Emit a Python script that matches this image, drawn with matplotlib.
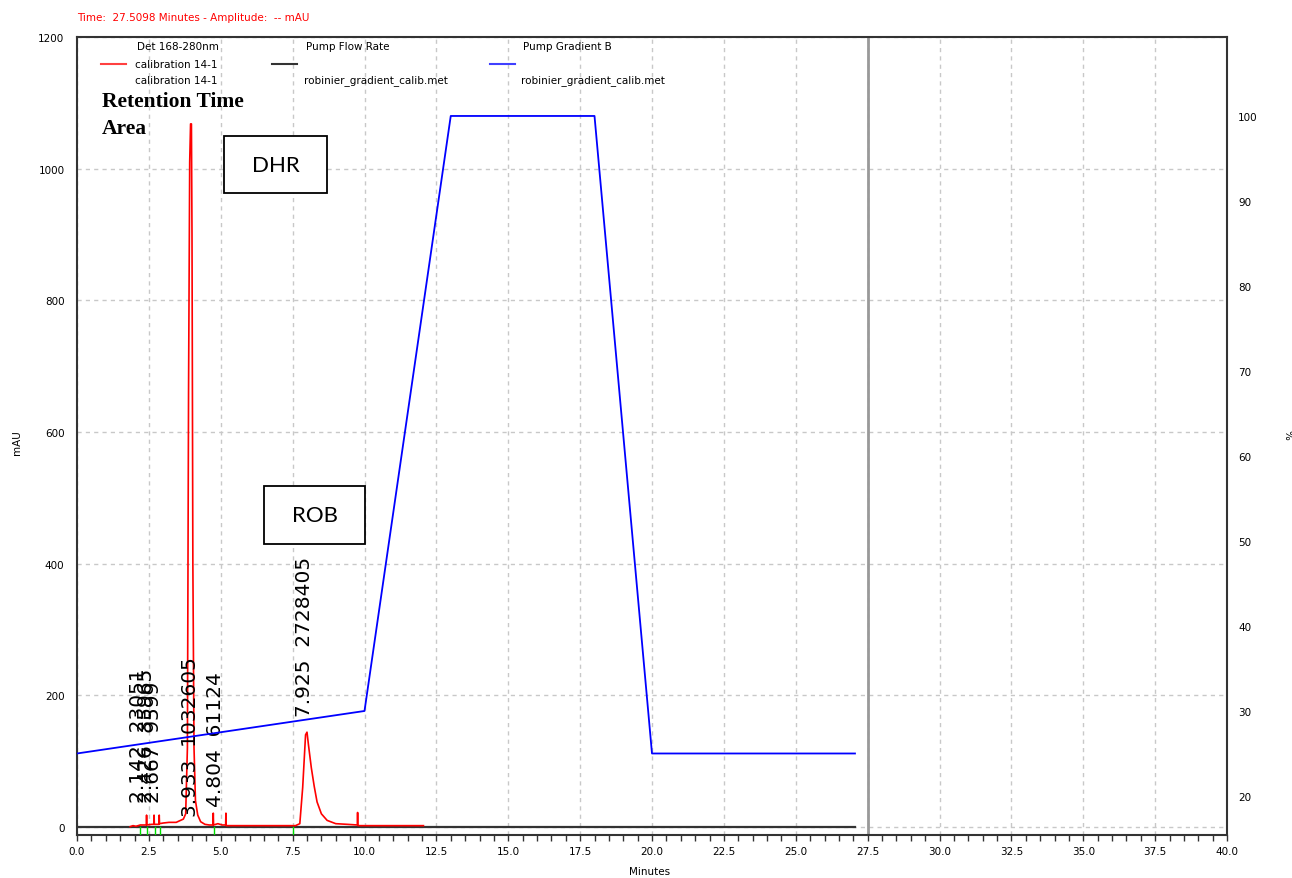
import numpy as np
import matplotlib.pyplot as plt
from matplotlib.lines import Line2D
from matplotlib.patches import Rectangle

# detector trace (Det 168-280nm), minutes vs mAU
trace_min = [1.85, 1.95, 2.05, 2.2, 2.41, 2.42, 2.43, 2.6, 2.67, 2.68, 2.69, 2.85, 2.86, 2.87,
             3.0, 3.2, 3.45, 3.6, 3.7, 3.78, 3.84, 3.88, 3.92, 3.95, 3.98, 4.0, 4.03, 4.07,
             4.12, 4.2, 4.3, 4.45, 4.6, 4.73, 4.74, 4.75, 4.9, 5.05, 5.17, 5.18, 5.19, 6.0,
             7.0, 7.6, 7.75, 7.85, 7.95, 8.0, 8.05, 8.15, 8.25, 8.35, 8.5, 8.7, 9.0, 9.4,
             9.75, 9.76, 9.77, 10.5, 12.05]
trace_mau = [0.5, 2, 1, 3, 3, 18, 3, 4, 4, 18, 4, 4, 18, 5,
             6, 7, 7, 10, 12, 20, 120, 660, 1010, 1068, 1068, 900, 400, 120,
             40, 18, 8, 4, 3, 3, 21, 3, 5, 3, 3, 21, 2, 2,
             2, 2, 5, 60, 140, 144, 125, 90, 62, 38, 20, 10, 5, 4,
             3, 22, 2, 2, 2]

# pump program
grad_min = [0.0, 10.0, 13.0, 18.0, 20.0, 27.06]
grad_pct = [25, 30, 100, 100, 25, 25]
flow_min = [0.0, 27.06]
flow_mau = [0, 0]

# integration results
peak_rt = [2.142, 2.426, 2.667, 3.933, 4.804, 7.925]
peak_area = [23051, 35965, 9599, 1032605, 61124, 2728405]
event_marks = [2.19, 2.43, 2.70, 2.87, 4.77, 7.51]

# where each annotation starts (mAU)
label_base = [38, 38, 38, 17, 32, 169]

fig = plt.figure(figsize=(12.92, 8.79), dpi=100)
W, H = 1292, 879
ax = fig.add_axes([77 / W, 1 - 836 / H, 1150 / W, 798 / H])

ax.set_xlim(0, 40)
ax.set_ylim(-12.2, 1200)
ax.set_xticks(np.arange(0, 40.1, 2.5))
ax.set_xticks(np.arange(0, 40.1, 0.5), minor=True)
ax.set_xticklabels([f'{v:.1f}' for v in np.arange(0, 40.1, 2.5)])
ax.set_yticks(np.arange(0, 1201, 200))
ax.tick_params(axis='x', which='both', direction='out', length=4, width=1,
               labelsize=7.5, pad=4, color='#333333')
ax.tick_params(axis='y', length=0, labelsize=7.5, pad=9)
ax.grid(True, color='#c8c8c8', linestyle=(0, (3, 3)), linewidth=1)
for s in ax.spines.values():
    s.set_color('#333333')
    s.set_linewidth(1.5)

ax.axvline(27.5, color='#999999', linewidth=2, zorder=2)

ax.plot(flow_min, flow_mau, color='#333333', linewidth=1.6, zorder=3)
ax.plot(trace_min, trace_mau, color='#ff0000', linewidth=1.2, zorder=4)
for t in event_marks:
    ax.plot([t, t], [0, -12], color='#00dd00', linewidth=1, zorder=5)

for rt, area, yb in zip(peak_rt, peak_area, label_base):
    ax.text(rt, yb, f'{rt:.3f}  {area}', rotation=90, ha='center', va='bottom',
            fontsize=14.5, family='DejaVu Sans', zorder=6)

ax2 = ax.twinx()
ax2.set_ylim(15.41, 109.29)
ax2.set_yticks(np.arange(20, 101, 10))
ax2.tick_params(axis='y', length=0, labelsize=7.5, pad=8)
ax2.plot(grad_min, grad_pct, color='#0000ff', linewidth=1.3, zorder=4)
for s in ax2.spines.values():
    s.set_visible(False)

fig.text(650 / W, 1 - 872 / H, 'Minutes', ha='center', va='center', fontsize=7.5)
fig.text(17 / W, 1 - 443 / H, 'mAU', ha='center', va='center', fontsize=7.5, rotation=90)
fig.text(1287 / W, 1 - 435 / H, '%', ha='center', va='center', fontsize=7.5, rotation=270)
fig.text(77 / W, 1 - 18 / H, 'Time:  27.5098 Minutes - Amplitude:  -- mAU',
         ha='left', va='center', fontsize=7.5, color='#ff0000')

# legend block
legend_rows = [
    (137, 'Det 168-280nm', 'calibration 14-1', 'calibration 14-1', '#ff4040', 101),
    (306, 'Pump Flow Rate', '', 'robinier_gradient_calib.met', '#333333', 272),
    (523, 'Pump Gradient B', '', 'robinier_gradient_calib.met', '#4040ff', 490),
]
for x0, title, line1, line2, col, lx in legend_rows:
    fig.text(x0 / W, 1 - 47 / H, title, ha='left', va='center', fontsize=7.5)
    if line1:
        fig.text((x0 - 2) / W, 1 - 65 / H, line1, ha='left', va='center', fontsize=7.5)
    fig.text((x0 - 2) / W, 1 - 81 / H, line2, ha='left', va='center', fontsize=7.5)
    fig.add_artist(Line2D([lx / W, (lx + 25) / W], [1 - 65 / H, 1 - 65 / H],
                          color=col, linewidth=1.5))

fig.text(102 / W, 1 - 102 / H, 'Retention Time', ha='left', va='center',
         fontsize=15.5, fontweight='bold', family='Liberation Serif')
fig.text(102 / W, 1 - 129 / H, 'Area', ha='left', va='center',
         fontsize=15.5, fontweight='bold', family='Liberation Serif')

# compound boxes
for name, (x0, y0, x1, y1) in [('DHR', (224, 137, 327, 194)), ('ROB', (264, 487, 365, 545))]:
    fig.add_artist(Rectangle((x0 / W, 1 - y1 / H), (x1 - x0) / W, (y1 - y0) / H,
                             facecolor='white', edgecolor='black', linewidth=1.3,
                             transform=fig.transFigure, zorder=10))
    fig.text((x0 + x1) / 2 / W, 1 - (y0 + y1) / 2 / H, name, ha='center', va='center',
             fontsize=16, family='Lato', zorder=11)

fig.savefig('out.png', dpi=100)
